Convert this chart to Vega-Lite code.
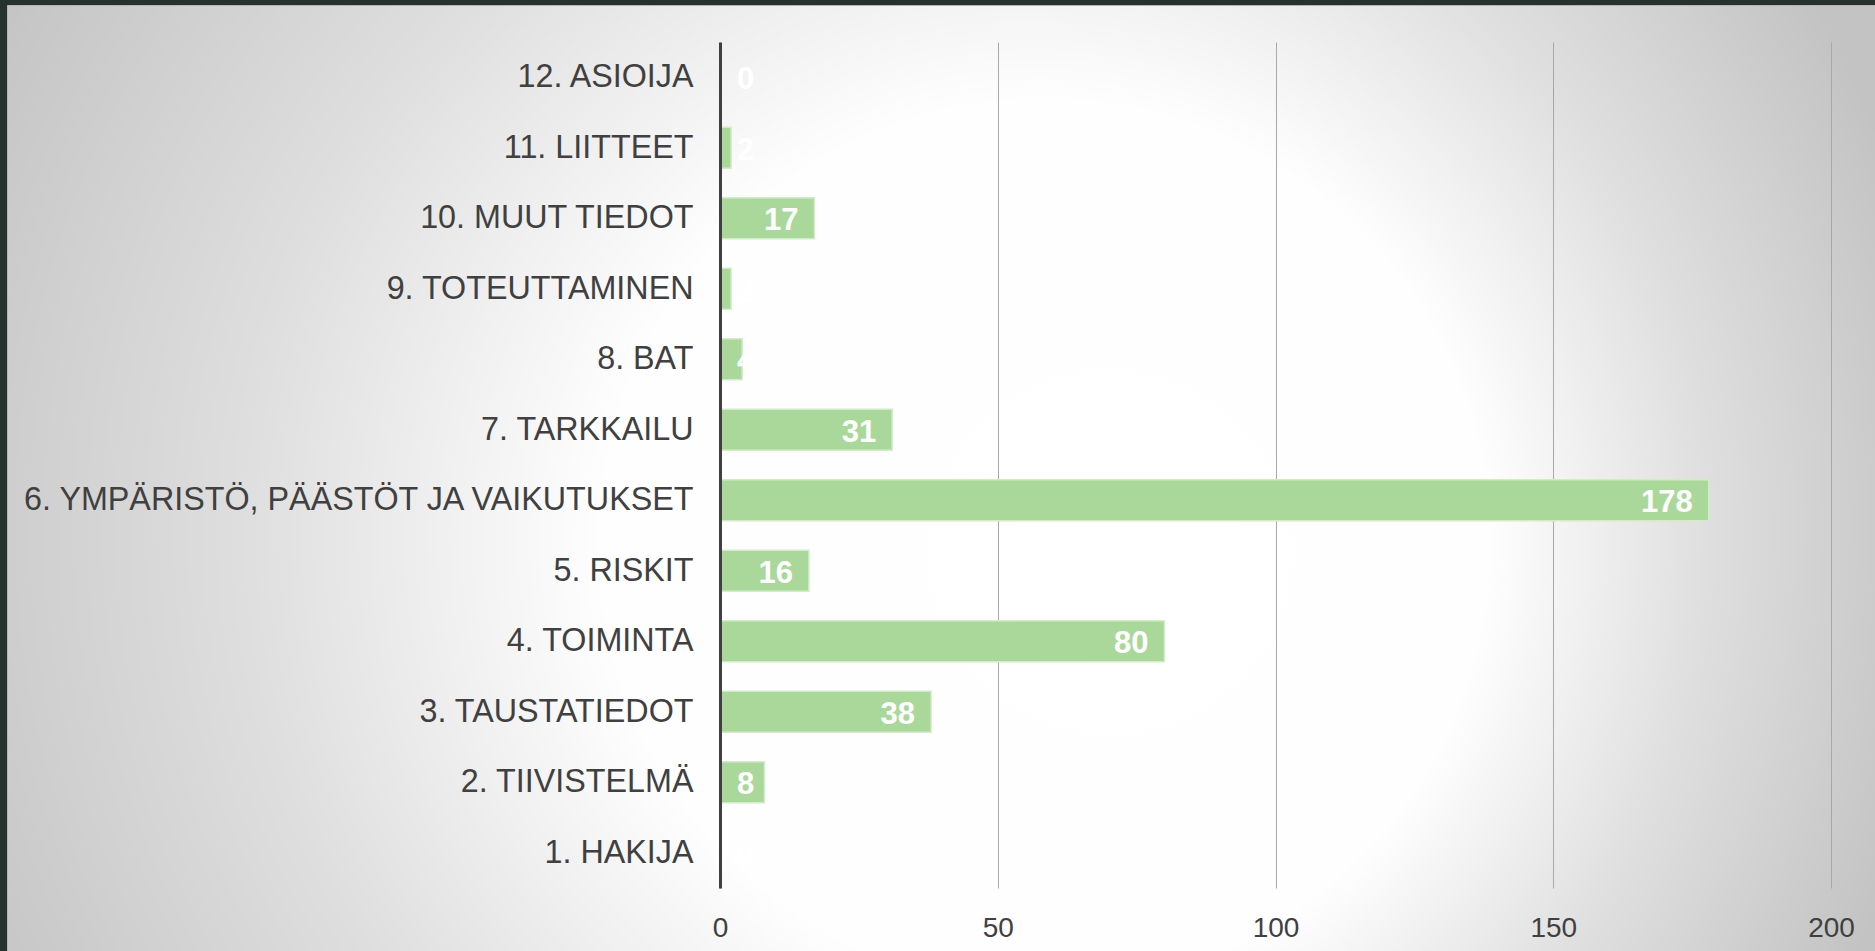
{
  "$schema": "https://vega.github.io/schema/vega-lite/v6.json",
  "autosize": {"type": "none"},
  "width": 1868,
  "height": 946,
  "padding": {"left": 7, "top": 5, "right": 0, "bottom": 0},
  "background": "#25322e",
  "config": {
    "view": {
      "fill": {
        "gradient": "radial",
        "x1": 0.6119, "y1": 0.5439, "r1": 0,
        "x2": 0.4781, "y2": 0.5225, "r2": 0.562,
        "stops": [
          {"offset": 0, "color": "#ffffff"},
          {"offset": 0.42, "color": "#fefefe"},
          {"offset": 0.7, "color": "#dedede"},
          {"offset": 1, "color": "#c3c3c3"}
        ]
      },
      "stroke": "#b4b4b4",
      "strokeWidth": 1
    },
    "axis": {"labelFont": "Liberation Sans", "titleFont": "Liberation Sans"},
    "text": {"font": "Liberation Sans"}
  },
  "data": {
    "values": [
      {"label": "12. ASIOIJA", "n": 0},
      {"label": "11. LIITTEET", "n": 2},
      {"label": "10. MUUT TIEDOT", "n": 17},
      {"label": "9. TOTEUTTAMINEN", "n": 2},
      {"label": "8. BAT", "n": 4},
      {"label": "7. TARKKAILU", "n": 31},
      {"label": "6. YMPÄRISTÖ, PÄÄSTÖT JA VAIKUTUKSET", "n": 178},
      {"label": "5. RISKIT", "n": 16},
      {"label": "4. TOIMINTA", "n": 80},
      {"label": "3. TAUSTATIEDOT", "n": 38},
      {"label": "2. TIIVISTELMÄ", "n": 8},
      {"label": "1. HAKIJA", "n": 0}
    ]
  },
  "encoding": {
    "y": {
      "field": "label",
      "type": "nominal",
      "sort": ["12. ASIOIJA", "11. LIITTEET", "10. MUUT TIEDOT", "9. TOTEUTTAMINEN", "8. BAT", "7. TARKKAILU", "6. YMPÄRISTÖ, PÄÄSTÖT JA VAIKUTUKSET", "5. RISKIT", "4. TOIMINTA", "3. TAUSTATIEDOT", "2. TIIVISTELMÄ", "1. HAKIJA"],
      "scale": {"range": [37, 883], "paddingInner": 0.42, "paddingOuter": 0.21},
      "axis": {
        "orient": "left",
        "offset": -713,
        "title": null,
        "domain": true,
        "domainColor": "#404040",
        "domainWidth": 3,
        "ticks": false,
        "tickSize": 0,
        "grid": false,
        "labelFontSize": 32.3,
        "labelColor": "#404040",
        "labelPadding": 27,
        "labelLimit": 1000,
        "zindex": 1
      }
    }
  },
  "layer": [
    {
      "mark": {"type": "bar", "fill": "#aad89b", "stroke": "#d2ecca", "strokeWidth": 1.5},
      "encoding": {
        "x": {
          "field": "n",
          "type": "quantitative",
          "scale": {"domain": [0, 200], "range": [713, 1824], "nice": false, "zero": true},
          "axis": {
            "orient": "top",
            "offset": -946,
            "title": null,
            "values": [0, 50, 100, 150, 200],
            "domain": false,
            "ticks": false,
            "tickSize": 0,
            "grid": true,
            "gridColor": "#a8a8a8",
            "gridWidth": 1,
            "labelFontSize": 28,
            "labelColor": "#404040",
            "labelBaseline": "alphabetic",
            "labelPadding": 15,
            "labelFlush": false,
            "zindex": 0
          }
        }
      }
    },
    {
      "transform": [{"filter": "datum.n >= 10"}],
      "mark": {"type": "text", "align": "right", "baseline": "middle", "dx": -16, "dy": 3, "fontSize": 31, "fontWeight": "bold", "fill": "#ffffff"},
      "encoding": {
        "x": {"field": "n", "type": "quantitative"},
        "text": {"field": "n", "type": "quantitative"}
      }
    },
    {
      "transform": [{"filter": "datum.n < 10"}],
      "mark": {"type": "text", "align": "left", "baseline": "middle", "dx": 17, "dy": 3, "fontSize": 31, "fontWeight": "bold", "fill": "#ffffff"},
      "encoding": {
        "x": {"datum": 0, "type": "quantitative"},
        "text": {"field": "n", "type": "quantitative"}
      }
    }
  ]
}
